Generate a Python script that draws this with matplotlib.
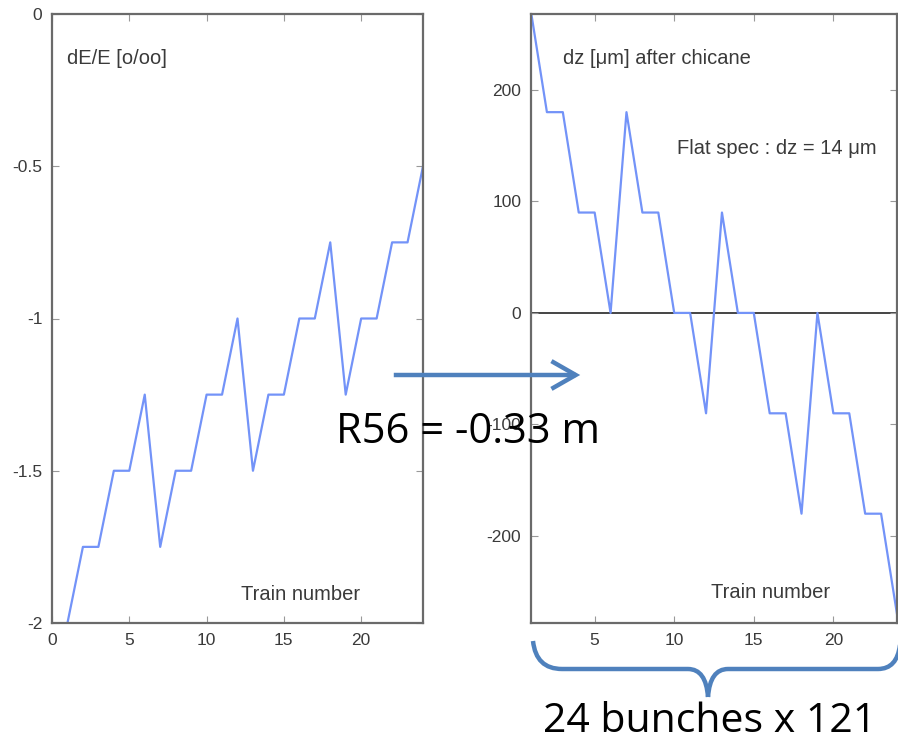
import matplotlib
matplotlib.use("Agg")
import matplotlib.pyplot as plt
from matplotlib.path import Path
from matplotlib.patches import PathPatch, FancyArrowPatch

# ---- data ----
train = list(range(1, 25))
dE = [-2.0, -1.75, -1.75, -1.5, -1.5, -1.25, -1.75, -1.5, -1.5, -1.25, -1.25, -1.0,
      -1.5, -1.25, -1.25, -1.0, -1.0, -0.75, -1.25, -1.0, -1.0, -0.75, -0.75, -0.5]
dz = [270, 180, 180, 90, 90, 0, 180, 90, 90, 0, 0, -90,
      90, 0, 0, -90, -90, -180, 0, -90, -90, -180, -180, -270]

left_xticks = [0, 5, 10, 15, 20]
left_yticks = [0, -0.5, -1, -1.5, -2]
left_yticklabels = ["0", "-0.5", "-1", "-1.5", "-2"]
right_xticks = [5, 10, 15, 20]
right_yticks = [200, 100, 0, -100, -200]

W, H = 898, 741
plt.rcParams['font.family'] = ['Liberation Sans', 'DejaVu Sans']
plt.rcParams['axes.unicode_minus'] = False
fig = plt.figure(figsize=(W / 100, H / 100), dpi=100)

line_col = '#7393f8'
spine_col = '#6a6a6a'
txt_col = '#3a3a3a'
tick_fs = 12.5
lab_fs = 14.5


def px_axes(x0, y0, x1, y1):
    return fig.add_axes([x0 / W, 1 - y1 / H, (x1 - x0) / W, (y1 - y0) / H])


def style(ax):
    for s in ax.spines.values():
        s.set_color(spine_col)
        s.set_linewidth(1.6)
    ax.tick_params(direction='in', length=5, width=0.8, color='#999999',
                   top=True, right=True, labelsize=tick_fs, labelcolor=txt_col, pad=7)


# left panel
ax1 = px_axes(52, 14, 423, 623)
ax1.plot(train, dE, color=line_col, lw=1.6, clip_on=True)
ax1.set_xlim(0, 24)
ax1.set_ylim(-2, 0)
ax1.set_xticks(left_xticks)
ax1.set_yticks(left_yticks)
ax1.set_yticklabels(left_yticklabels)
style(ax1)
ax1.text(15 / 371, 1 - 44 / 609, "dE/E [o/oo]", transform=ax1.transAxes,
         fontsize=lab_fs, color=txt_col, va='center', ha='left')
ax1.text(249 / 371, 1 - 580 / 609, "Train number", transform=ax1.transAxes,
         fontsize=lab_fs, color=txt_col, va='center', ha='center')

# right panel
ax2 = px_axes(531, 14, 897, 623)
ax2.axhline(0, color='#444444', lw=1.4, zorder=1)
ax2.plot(train, dz, color=line_col, lw=1.6, zorder=2)
ax2.set_xlim(1, 24)
ax2.set_ylim(-278, 268)
ax2.set_xticks(right_xticks)
ax2.set_yticks(right_yticks)
style(ax2)
ax2.text(32 / 366, 1 - 44 / 609, "dz [\u03bcm] after chicane", transform=ax2.transAxes,
         fontsize=lab_fs, color=txt_col, va='center', ha='left')
ax2.text(146 / 366, 1 - 134 / 609, "Flat spec : dz = 14 \u03bcm", transform=ax2.transAxes,
         fontsize=lab_fs, color=txt_col, va='center', ha='left')
ax2.text(240 / 366, 1 - 578 / 609, "Train number", transform=ax2.transAxes,
         fontsize=lab_fs, color=txt_col, va='center', ha='center')

# overlay for annotations
ov = fig.add_axes([0, 0, 1, 1], zorder=10)
ov.set_xlim(0, W)
ov.set_ylim(H, 0)
ov.axis('off')
ov.patch.set_alpha(0)

blue = '#4f81bd'
arr = FancyArrowPatch((391, 375), (583, 375), arrowstyle='->,head_length=7,head_width=4',
                      mutation_scale=2.5, color=blue, lw=3.2, capstyle='butt', joinstyle='miter')
ov.add_patch(arr)
ov.text(468, 432, "R56 = -0.33 m", fontsize=30, family=['Open Sans', 'DejaVu Sans'],
        color='black', ha='center', va='center')

verts = [(533, 641), (536, 669), (562, 669), (688, 669), (706, 669), (708, 697),
         (708, 697), (710, 669), (728, 669), (878, 669), (897, 669), (900, 645)]
codes = [Path.MOVETO, Path.CURVE3, Path.CURVE3, Path.LINETO, Path.CURVE3, Path.CURVE3,
         Path.MOVETO, Path.CURVE3, Path.CURVE3, Path.LINETO, Path.CURVE3, Path.CURVE3]
ov.add_patch(PathPatch(Path(verts, codes), facecolor='none', edgecolor=blue, lw=3.2,
                       capstyle='butt'))
ov.text(710, 722, "24 bunches x 121", fontsize=29.5, family=['Open Sans', 'DejaVu Sans'],
        color='black', ha='center', va='center')

fig.savefig("out.png", dpi=100)
